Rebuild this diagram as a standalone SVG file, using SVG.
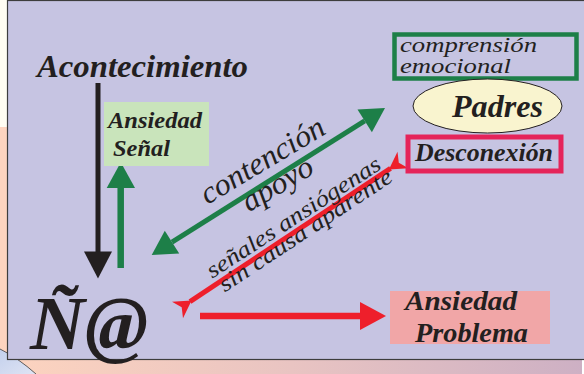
<svg xmlns="http://www.w3.org/2000/svg" width="584" height="374" viewBox="0 0 584 374">
<defs>
<linearGradient id="bottomGrad" x1="0" y1="0" x2="1" y2="0">
<stop offset="0" stop-color="#fdd4bf"/>
<stop offset="0.5" stop-color="#e9c4c2"/>
<stop offset="1" stop-color="#cdb0c4"/>
</linearGradient>
<linearGradient id="blueGrad" x1="0" y1="0" x2="1" y2="1">
<stop offset="0" stop-color="#c3d0ec"/>
<stop offset="1" stop-color="#dfe4f4"/>
</linearGradient>
</defs>
<g id="background">
<rect x="0" y="0" width="584" height="374" fill="#fdd4bf"/>
<rect x="0" y="0" width="8" height="127" fill="#fffdf2"/>
<rect x="0" y="359" width="584" height="15" fill="url(#bottomGrad)"/>
<rect x="582" y="360" width="2" height="14" fill="#ffffff"/>
<path d="M0,349 Q18,358 36,374 L0,374 Z" fill="url(#blueGrad)"/>
<path d="M0,349 Q18,358 36,374" fill="none" stroke="#3a3a3a" stroke-width="0.8"/>
<rect x="7.5" y="0.5" width="580" height="359" fill="#c6c4e2" stroke="#3d3d3d" stroke-width="1.2"/>
</g>
<g id="connectors">
<line x1="98" y1="83" x2="98" y2="253" stroke="#231f20" stroke-width="5"/>
<polygon points="84,251.5 112,251.5 98,278.5" fill="#231f20"/>
<line x1="120.7" y1="186" x2="120.7" y2="268" stroke="#1d7f48" stroke-width="6.5"/>
<polygon points="106.7,188 135,188 120.8,162.3" fill="#1d7f48"/>
<line x1="172" y1="242.2" x2="364.7" y2="120.8" stroke="#1d7f48" stroke-width="5"/>
<polygon points="385,108 357.5,109.4 371.9,132.2" fill="#1d7f48"/>
<polygon points="151.7,255 164.8,230.8 179.2,253.6" fill="#1d7f48"/>
<line x1="190" y1="301.6" x2="390.5" y2="168.3" stroke="#ee1f2b" stroke-width="5"/>
<polygon points="191.6,300.6 183,318.3 181.7,307.2 172,301.7" fill="#ee1f2b"/>
<polygon points="388.9,169.4 408.5,168.3 398.8,162.8 397.5,151.7" fill="#ee1f2b"/>
<line x1="200" y1="316" x2="362" y2="316" stroke="#ee1f2b" stroke-width="6.5"/>
<polygon points="360,302 360,330 386,316" fill="#ee1f2b"/>
<g font-family="Liberation Serif, serif" font-style="italic" fill="#231f20" text-anchor="middle">
<text font-size="31" transform="translate(267.5,169) rotate(-31)" textLength="140" lengthAdjust="spacingAndGlyphs">contención</text>
<text font-size="31" transform="translate(282.5,192.5) rotate(-31)" textLength="78" lengthAdjust="spacingAndGlyphs">apoyo</text>
<text font-size="23" transform="translate(297.5,223.5) rotate(-33)" textLength="203" lengthAdjust="spacingAndGlyphs">señales ansiógenas</text>
<text font-size="23" transform="translate(309.5,236.5) rotate(-33.5)" textLength="203" lengthAdjust="spacingAndGlyphs">sin causa aparente</text>
</g>
</g>
<g id="acontecimiento" font-family="Liberation Serif, serif" font-style="italic" font-weight="bold" fill="#231f20">
<text x="37" y="77" font-size="32.5" textLength="211" lengthAdjust="spacingAndGlyphs">Acontecimiento</text>
</g>
<g id="ansiedad-senal" font-family="Liberation Serif, serif" font-style="italic" font-weight="bold" fill="#231f20">
<rect x="104" y="102" width="105" height="64" fill="#c9e4bb"/>
<text x="108" y="128" font-size="23" textLength="94" lengthAdjust="spacingAndGlyphs">Ansiedad</text>
<text x="113" y="156" font-size="23" textLength="57" lengthAdjust="spacingAndGlyphs">Señal</text>
</g>
<g id="comprension" font-family="Liberation Serif, serif" font-style="italic" fill="#231f20">
<rect x="394.5" y="34.5" width="182" height="44" fill="none" stroke="#1d7f48" stroke-width="4.5"/>
<text x="400" y="52" font-size="21" textLength="137" lengthAdjust="spacingAndGlyphs">comprensión</text>
<text x="400" y="73" font-size="21" textLength="111" lengthAdjust="spacingAndGlyphs">emocional</text>
</g>
<g id="padres" font-family="Liberation Serif, serif" font-style="italic" font-weight="bold" fill="#231f20">
<ellipse cx="487.5" cy="106" rx="74.5" ry="27" fill="#f9f4cf" stroke="#231f20" stroke-width="1"/>
<text x="452" y="117" font-size="32" textLength="91" lengthAdjust="spacingAndGlyphs">Padres</text>
</g>
<g id="desconexion" font-family="Liberation Serif, serif" font-style="italic" font-weight="bold" fill="#231f20">
<rect x="408" y="137" width="153" height="34" fill="none" stroke="#e5245a" stroke-width="5"/>
<text x="415" y="161" font-size="25.5" textLength="138" lengthAdjust="spacingAndGlyphs">Desconexión</text>
</g>
<g id="ansiedad-problema" font-family="Liberation Serif, serif" font-style="italic" font-weight="bold" fill="#231f20">
<rect x="390" y="291" width="160" height="53" fill="#f1a6a7"/>
<text x="405" y="310" font-size="28" textLength="112" lengthAdjust="spacingAndGlyphs">Ansiedad</text>
<text x="415" y="342" font-size="28" textLength="113" lengthAdjust="spacingAndGlyphs">Problema</text>
</g>
<g id="nino" font-family="Liberation Serif, serif" font-style="italic" font-weight="bold" fill="#231f20">
<text x="30" y="349" font-size="76">Ñ@</text>
</g>
</svg>
